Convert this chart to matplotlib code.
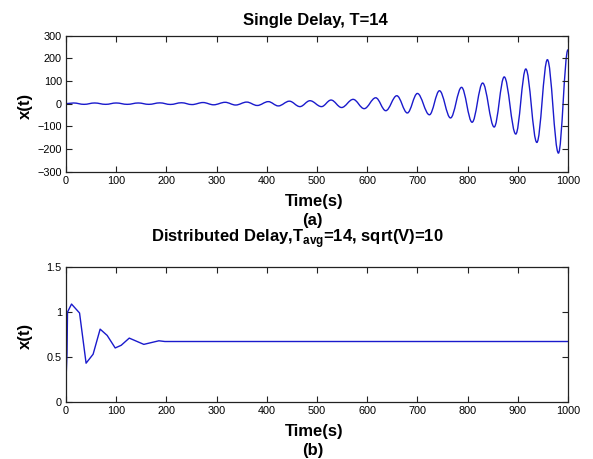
import matplotlib
matplotlib.use('Agg')
import matplotlib.pyplot as plt
from matplotlib.path import Path
from matplotlib.patches import PathPatch

plt.rcParams['font.family'] = ['Liberation Sans', 'DejaVu Sans']

# Single delay: turning points of the oscillation
single_t = [0, 15, 36, 57, 79, 100, 122, 144, 165, 187, 208, 230, 251, 273, 294,
            317, 338, 360, 381, 403, 423, 445, 466, 486, 509, 528, 549, 572, 594,
            617, 637, 659, 680, 700, 724, 744, 766, 788, 809, 830, 853, 873, 896,
            916, 938, 959, 981, 1000]
single_x = [0, 3, -3, 3, -3, 3, -3, 3, -3, 3.5, -3.5, 4, -4, 5, -5,
            6, -6, 7, -8, 9, -10, 11, -13, 13, -13, 16, -17, 19, -22,
            26, -31, 35, -41, 45, -49, 57, -63, 72, -82, 91, -103, 118, -134,
            153, -171, 194, -218, 238]

# Distributed delay samples
dist_t = [0, 2, 3, 11, 27, 40, 54, 68, 82, 98, 110, 126, 155, 185, 197, 1000]
dist_x = [0.24, 0.54, 1.0, 1.09, 0.99, 0.43, 0.53, 0.81, 0.74, 0.6, 0.63, 0.71,
          0.64, 0.68, 0.672, 0.672]

line_color = '#1a1acc'

fig = plt.figure(figsize=(5.93, 4.59), dpi=100)
ax1 = fig.add_axes([0.1113, 0.626, 0.8465, 0.2963])
ax2 = fig.add_axes([0.1113, 0.1248, 0.8465, 0.2928])

# smooth wave between turning points (flat tangents at each extremum)
verts = [(single_t[0], single_x[0])]
codes = [Path.MOVETO]
for i in range(1, len(single_t)):
    t0, x0 = single_t[i - 1], single_x[i - 1]
    t1, x1 = single_t[i], single_x[i]
    d = t1 - t0
    verts += [(t0 + 0.364 * d, x0), (t1 - 0.364 * d, x1), (t1, x1)]
    codes += [Path.CURVE4] * 3
ax1.add_patch(PathPatch(Path(verts, codes), facecolor='none',
                        edgecolor=line_color, lw=1.0))

ax2.plot(dist_t, dist_x, color=line_color, lw=1.0)

ax1.set_xlim(0, 1000)
ax1.set_ylim(-300, 300)
ax1.set_xticks(range(0, 1001, 100))
ax1.set_yticks(range(-300, 301, 100))
ax2.set_xlim(0, 1000)
ax2.set_ylim(0, 1.5)
ax2.set_xticks(range(0, 1001, 100))
ax2.set_yticks([0, 0.5, 1, 1.5])
ax2.set_yticklabels(['0', '0.5', '1', '1.5'])

for ax in (ax1, ax2):
    ax.tick_params(direction='in', top=True, right=True, length=4,
                   width=0.8, labelsize=7.8, pad=3, colors='#222222',
                   labelcolor='black')
    for s in ax.spines.values():
        s.set_linewidth(0.9)
        s.set_color('#222222')

big = 12
fig.text(0.532, 0.955, 'Single Delay, T=14', ha='center', va='center',
         fontsize=big, fontweight='bold')
fig.text(0.529, 0.562, 'Time(s)', ha='center', va='center',
         fontsize=big, fontweight='bold')
fig.text(0.527, 0.52, '(a)', ha='center', va='center',
         fontsize=big, fontweight='bold')
fig.text(0.501, 0.481, r'Distributed Delay,T$_{\mathregular{avg}}$=14, sqrt(V)=10',
         ha='center', va='center', fontsize=big, fontweight='bold')
fig.text(0.529, 0.061, 'Time(s)', ha='center', va='center',
         fontsize=big, fontweight='bold')
fig.text(0.527, 0.019, '(b)', ha='center', va='center',
         fontsize=big, fontweight='bold')
fig.text(0.042, 0.77, 'x(t)', ha='center', va='center', rotation=90,
         fontsize=big, fontweight='bold')
fig.text(0.042, 0.268, 'x(t)', ha='center', va='center', rotation=90,
         fontsize=big, fontweight='bold')

fig.savefig('out.png', dpi=100)
